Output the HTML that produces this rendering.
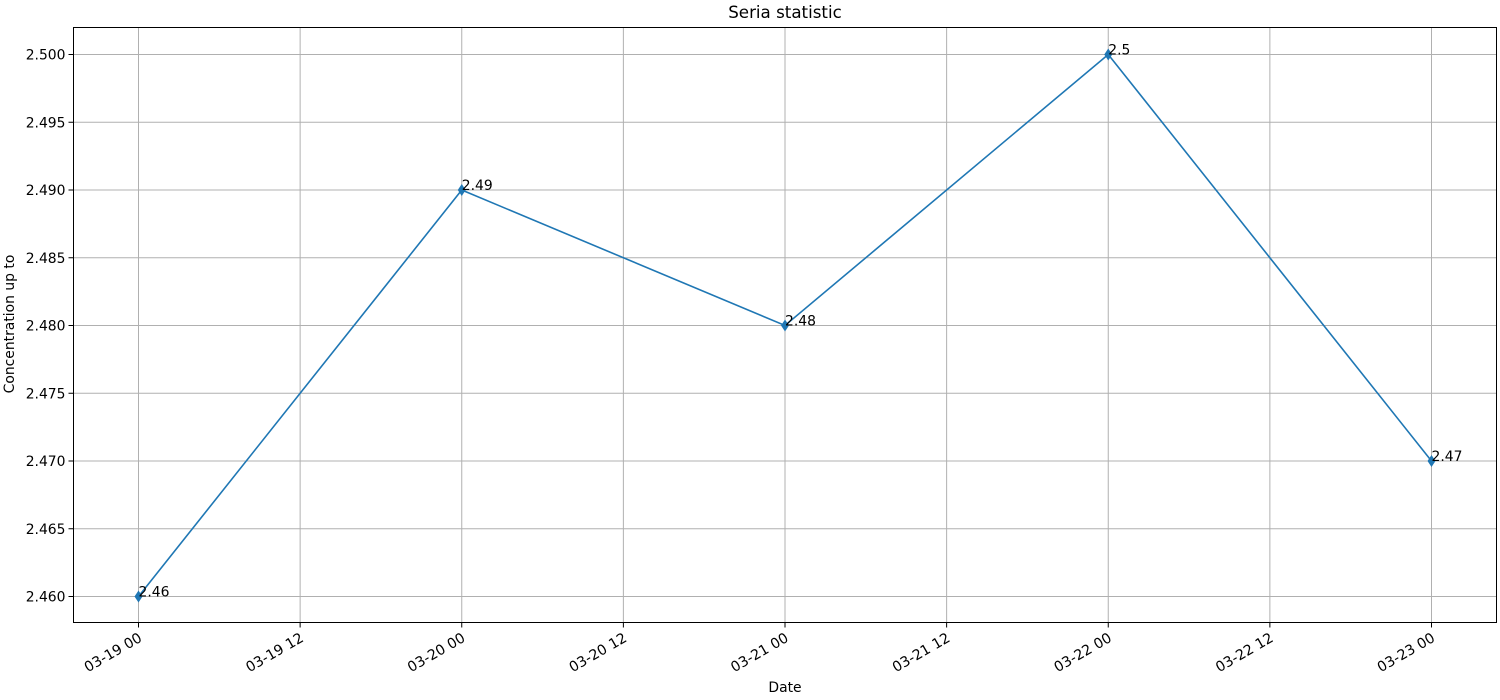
<!DOCTYPE html>
<html><head><meta charset="utf-8"><style>
html,body{margin:0;padding:0;background:#fff;}
svg{display:block;font-family:"DejaVu Sans","Liberation Sans",sans-serif;}
</style></head><body>
<svg id="chart" width="1500" height="700" xmlns="http://www.w3.org/2000/svg"></svg>
<script>
const categories = [0, 1, 2, 3, 4]; // days since 03-19 00
const values = [2.46, 2.49, 2.48, 2.50, 2.47];
const pointLabels = ["2.46", "2.49", "2.48", "2.5", "2.47"];
const xTickVals = [0, 0.5, 1, 1.5, 2, 2.5, 3, 3.5, 4];
const xTickLabels = ["03-19 00","03-19 12","03-20 00","03-20 12","03-21 00","03-21 12","03-22 00","03-22 12","03-23 00"];
const yTickVals = [2.460, 2.465, 2.470, 2.475, 2.480, 2.485, 2.490, 2.495, 2.500];
const yTickLabels = ["2.460","2.465","2.470","2.475","2.480","2.485","2.490","2.495","2.500"];

const NS = "http://www.w3.org/2000/svg";
const svg = document.getElementById("chart");
const L = 73.5, R = 1496.5, T = 27.5, B = 622.5;
const xs = d => 138.5 + d * 323.25;
const ys = v => 596.5 - (v - 2.46) / 0.005 * 67.75;
function mk(tag, attrs, parent) {
  const e = document.createElementNS(NS, tag);
  for (const k in attrs) e.setAttribute(k, attrs[k]);
  (parent || svg).appendChild(e);
  return e;
}
const grid = mk("g", {});


xTickVals.forEach(d => mk("line", {x1: xs(d), x2: xs(d), y1: T, y2: B, stroke: "#b0b0b0", "stroke-width": 1}, grid));
yTickVals.forEach(v => mk("line", {x1: L, x2: R, y1: ys(v), y2: ys(v), stroke: "#b0b0b0", "stroke-width": 1}, grid));
const xt = mk("g", {});


xTickVals.forEach((d, i) => {
  mk("line", {x1: xs(d), x2: xs(d), y1: B, y2: B + 5, stroke: "#000"}, xt);
  const t = mk("text", {x: xs(d) + 1, y: B + 19, "font-size": 14.2, "text-anchor": "end", transform: `rotate(-30 ${xs(d) + 1} ${B + 12})`}, xt);
  t.textContent = xTickLabels[i];
});
const yt = mk("g", {});


yTickVals.forEach((v, i) => {
  mk("line", {x1: L - 5, x2: L, y1: ys(v), y2: ys(v), stroke: "#000"}, yt);
  const t = mk("text", {x: L - 8, y: ys(v) + 5, "font-size": 13.9, "text-anchor": "end"}, yt);
  t.textContent = yTickLabels[i];
});
const line = mk("polyline", {points: categories.map((d, i) => xs(d) + "," + ys(values[i])).join(" "), fill: "none", stroke: "#1f77b4", "stroke-width": 1.6});


categories.forEach((d, i) => {
  const x = xs(d), y = ys(values[i]);
  const m = mk("polygon", {points: `${x},${y-6} ${x+4},${y} ${x},${y+6} ${x-4},${y}`, fill: "#1f77b4"});
  
  
  const t = mk("text", {x: x, y: y, "font-size": 13.9});
  
  
  t.textContent = pointLabels[i];
});
const fr = mk("rect", {x: L, y: T, width: R - L, height: B - T, fill: "none", stroke: "#000", "stroke-width": 1});


</script>
<div style="position:absolute;left:0;top:0;width:1500px;height:700px;pointer-events:none;font-family:'DejaVu Sans','Liberation Sans',sans-serif;">
  <div style="position:absolute;left:0;width:1570px;top:2px;text-align:center;font-size:16.7px;">Seria statistic</div>
  <div style="position:absolute;left:0;width:1570px;top:680px;text-align:center;font-size:13.9px;">Date</div>
  <div style="position:absolute;left:-80px;top:316px;width:180px;text-align:center;font-size:13.9px;transform:rotate(-90deg);">Concentration up to</div>
</div>
</body></html>
